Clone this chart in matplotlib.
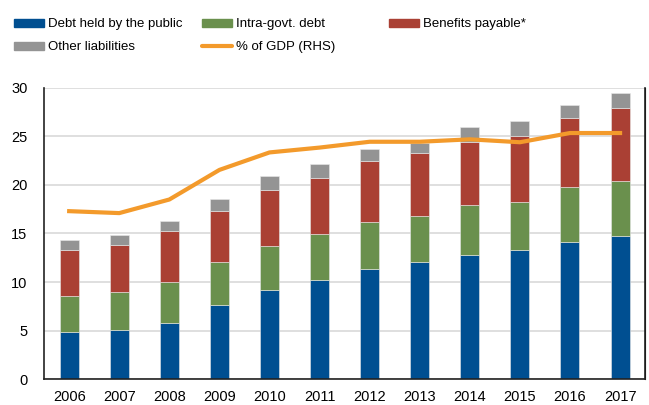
import matplotlib as mpl
mpl.use("Agg")
import matplotlib.pyplot as plt
import numpy as np
from matplotlib.patches import Patch
from matplotlib.lines import Line2D

years = ['2006', '2007', '2008', '2009', '2010', '2011',
         '2012', '2013', '2014', '2015', '2016', '2017']
# stacked components (cumulative tops, converted to segments below)
debt_public = [4.9, 5.05, 5.8, 7.6, 9.2, 10.2, 11.3, 12.05, 12.8, 13.25, 14.1, 14.75]
intra_govt = [3.65, 3.95, 4.25, 4.45, 4.55, 4.75, 4.85, 4.7, 5.15, 5.0, 5.65, 5.65]
benefits = [4.7, 4.85, 5.25, 5.25, 5.7, 5.75, 6.35, 6.5, 6.45, 6.8, 7.1, 7.5]
other = [1.05, 0.95, 0.95, 1.25, 1.5, 1.45, 1.25, 1.1, 1.6, 1.55, 1.4, 1.55]
pct_gdp = [17.3, 17.1, 18.5, 21.55, 23.35, 23.85, 24.45, 24.45, 24.7, 24.4, 25.35, 25.35]

c_blue = '#004F91'
c_green = '#6A904D'
c_red = '#AA4034'
c_gray = '#949494'
c_orange = '#F39A2B'

plt.rcParams['font.family'] = ['Liberation Sans', 'DejaVu Sans']
plt.rcParams['font.size'] = 10

fig = plt.figure(figsize=(6.49, 4.05), dpi=100)
ax = fig.add_axes([0.068, 0.064, 0.926, 0.719])

x = np.arange(len(years))
w = 0.38
bottom = np.zeros(len(years))
for vals, col in [(debt_public, c_blue), (intra_govt, c_green),
                  (benefits, c_red), (other, c_gray)]:
    ax.bar(x, vals, w, bottom=bottom, color=col, edgecolor='#e8e8e8',
           linewidth=0.4, zorder=2)
    bottom = bottom + np.array(vals)

ax.set_xlim(-0.5, len(years) - 0.5)
ax.set_ylim(0, 30)
ax.set_yticks(range(0, 31, 5))
ax.set_xticks(x)
ax.set_xticklabels(years)
ax.yaxis.grid(True, color='#d9d9d9', linewidth=1.2, zorder=0)
ax.set_axisbelow(True)
ax.tick_params(axis='both', length=0, labelsize=10.5, colors='black')
ax.tick_params(axis='y', pad=12)
ax.tick_params(axis='x', pad=8)
ax.spines['top'].set_visible(False)
ax.spines['left'].set_color('#222222')
ax.spines['bottom'].set_color('#222222')
ax.spines['left'].set_linewidth(1.2)
ax.spines['bottom'].set_linewidth(1.2)

# right-hand scale for % of GDP, labels not shown in source
ax2 = ax.twinx()
ax2.set_ylim(0, 30)
ax2.plot(x, pct_gdp, color=c_orange, linewidth=3, zorder=3)
ax2.set_yticks([])
ax2.spines['top'].set_visible(False)
ax2.spines['left'].set_visible(False)
ax2.spines['bottom'].set_visible(False)
ax2.spines['right'].set_color('#222222')
ax2.spines['right'].set_linewidth(1.2)

kw = dict(frameon=False, handlelength=2.3, handleheight=0.55, handletextpad=0.3,
          labelspacing=0.85, fontsize=9.5, borderaxespad=0, borderpad=0)
top = 0.955
fig.legend([Patch(color=c_blue), Patch(color=c_gray)],
           ['Debt held by the public', 'Other liabilities'],
           loc='upper left', bbox_to_anchor=(0.021, top), **kw)
fig.legend([Patch(color=c_green), Line2D([], [], color=c_orange, linewidth=3,
                                         solid_capstyle='round')],
           ['Intra-govt. debt', '% of GDP (RHS)'],
           loc='upper left', bbox_to_anchor=(0.311, top), **kw)
fig.legend([Patch(color=c_red)], ['Benefits payable*'],
           loc='upper left', bbox_to_anchor=(0.599, top), **kw)

fig.savefig('out.png', dpi=100)
